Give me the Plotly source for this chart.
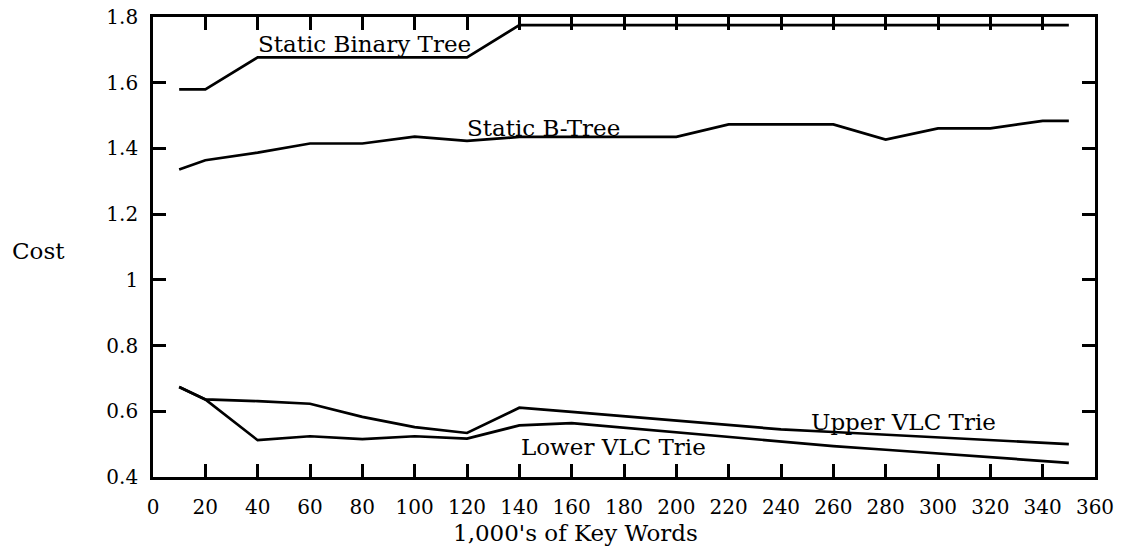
import plotly.graph_objects as go

# x values (1,000's of key words)
x_vals = [10, 20, 40, 60, 80, 100, 120, 140, 160, 180, 200, 220, 240, 260, 280, 300, 320, 340, 350]

static_binary_tree = [1.58, 1.58, 1.677, 1.677, 1.677, 1.677, 1.677, 1.775, 1.775, 1.775, 1.775, 1.775,
                      1.775, 1.775, 1.775, 1.775, 1.775, 1.775, 1.775]
static_b_tree = [1.336, 1.364, 1.387, 1.415, 1.415, 1.436, 1.423, 1.435, 1.435, 1.435, 1.435, 1.473,
                 1.473, 1.473, 1.427, 1.461, 1.461, 1.484, 1.484]
upper_vlc_trie = [0.674, 0.636, 0.631, 0.623, 0.583, 0.552, 0.534, 0.611, 0.598, 0.585, 0.571, 0.558,
                  0.545, 0.537, 0.529, 0.521, 0.513, 0.505, 0.50]
lower_vlc_trie = [0.674, 0.636, 0.512, 0.524, 0.515, 0.524, 0.517, 0.557, 0.564, 0.550, 0.535, 0.520,
                  0.506, 0.494, 0.483, 0.472, 0.460, 0.449, 0.443]

series = [
    ("Static Binary Tree", static_binary_tree),
    ("Static B-Tree", static_b_tree),
    ("Upper VLC Trie", upper_vlc_trie),
    ("Lower VLC Trie", lower_vlc_trie),
]

# in-plot label positions (x, y) in data units
label_pos = {
    "Static Binary Tree": (80.7, 1.718),
    "Static B-Tree": (149.3, 1.463),
    "Upper VLC Trie": (287, 0.567),
    "Lower VLC Trie": (176, 0.491),
}

FONT = "DejaVu Serif"
FS = 23
TFS = 20

W, H = 1125, 550
OFF = 8  # page body margin offset
ML, MR, MT, MB = 153 - OFF, 30 + OFF, 17 - OFF, 73 + OFF
PW, PH = W - ML - MR, H - MT - MB


def px_to_paper(px, py):
    return (px - OFF - ML) / PW, (H - MB - (py - OFF)) / PH


fig = go.Figure()
for name, ys in series:
    fig.add_trace(go.Scatter(x=x_vals, y=ys, mode="lines", name=name,
                             line=dict(color="black", width=2.7), showlegend=False))

for name, (lx, ly) in label_pos.items():
    fig.add_annotation(x=lx, y=ly, xref="x", yref="y", text=name, showarrow=False,
                       xanchor="center", yanchor="middle",
                       font=dict(family=FONT, size=FS, color="black"))

cx, cy = px_to_paper(38, 251)
fig.add_annotation(x=cx, y=cy, xref="paper", yref="paper", text="Cost", showarrow=False,
                   xanchor="center", yanchor="middle",
                   font=dict(family=FONT, size=FS, color="black"))
tx, ty = px_to_paper(575, 533)
fig.add_annotation(x=tx, y=ty, xref="paper", yref="paper", text="1,000's of Key Words",
                   showarrow=False, xanchor="center", yanchor="middle",
                   font=dict(family=FONT, size=FS, color="black"))

axis_common = dict(
    showline=True, linewidth=2.7, linecolor="black", mirror="ticks",
    ticks="inside", ticklen=13, tickwidth=2.5, tickcolor="black",
    showgrid=False, zeroline=False, automargin=False, ticklabeloverflow="allow",
    tickfont=dict(family=FONT, size=TFS, color="black"),
)

fig.update_layout(
    width=W, height=H,
    margin=dict(l=ML, r=MR, t=MT, b=MB),
    paper_bgcolor="white", plot_bgcolor="white",
    xaxis=dict(range=[0, 360], dtick=20, tick0=0, ticklabelstandoff=10, **axis_common),
    yaxis=dict(range=[0.4, 1.8], dtick=0.2, tick0=0.4, ticklabelstandoff=8, **axis_common),
)

fig.write_html("out.html")
